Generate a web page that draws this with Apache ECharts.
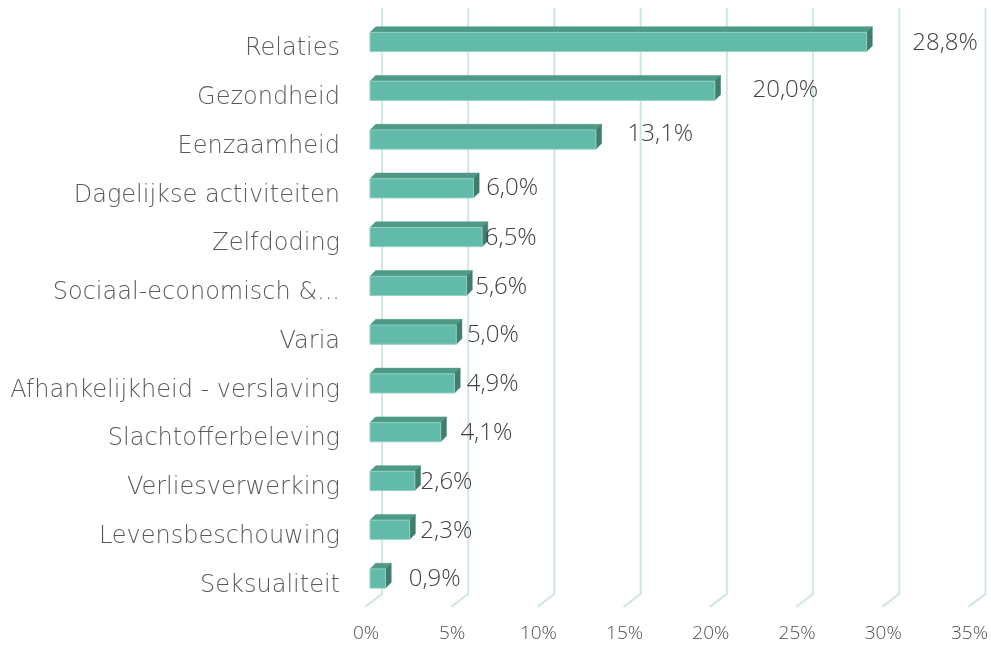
<!DOCTYPE html>
<html>
<head>
<meta charset="utf-8">
<script src="https://cdn.jsdelivr.net/npm/echarts@6/dist/echarts.min.js"></script>
<style>
html,body{margin:0;padding:0;background:#fff;}
#chart{width:991px;height:645px;}
</style>
</head>
<body>
<div id="chart"></div>
<script>
// ---- data ----
var categories = ['Relaties','Gezondheid','Eenzaamheid','Dagelijkse activiteiten','Zelfdoding','Sociaal-economisch &...','Varia','Afhankelijkheid - verslaving','Slachtofferbeleving','Verliesverwerking','Levensbeschouwing','Seksualiteit'];
var values = [28.8, 20.0, 13.1, 6.0, 6.5, 5.6, 5.0, 4.9, 4.1, 2.6, 2.3, 0.9];
var valueLabels = ['28,8%','20,0%','13,1%','6,0%','6,5%','5,6%','5,0%','4,9%','4,1%','2,6%','2,3%','0,9%'];
var ticks = [0, 5, 10, 15, 20, 25, 30, 35];

// ---- layout (label nudges, as in the original) ----
var labelGap = [40, 32, 26, 7, -3, 3, 5, 6.5, 14, 0, 5, 17.5];
var labelDy  = [1, -1, -5, 0, 1, 1, 1, 1, 1, 1, 1, 1];

var FONT = '"Open Sans", "Fira Sans", sans-serif';
var CAT_FONT = '"DejaVu Sans", "Open Sans", sans-serif';
var DEPTH = 5.7, HALF = 9.6;

var chart = echarts.init(document.getElementById('chart'), null, {renderer: 'canvas'});

var option = {
  animation: false,
  backgroundColor: '#ffffff',
  grid: {left: 370, right: 17.25, top: 17.6, bottom: 42.1, containLabel: false},
  xAxis: {
    type: 'value', min: 0, max: 35, interval: 5,
    axisLine: {show: false}, axisTick: {show: false}, splitLine: {show: false},
    axisLabel: {formatter: '{value}%', fontSize: 19, color: '#505050', fontFamily: FONT, fontWeight: 300, margin: 21, padding: [0, 8, 0, 0]}
  },
  yAxis: {
    type: 'category', inverse: true, data: categories,
    axisLine: {show: false}, axisTick: {show: false}, splitLine: {show: false},
    axisLabel: {
      margin: 30,
      formatter: function (s) { return '{c|' + s + '}'; },
      rich: {c: {fontSize: 24, color: '#595959', fontFamily: CAT_FONT, fontWeight: 200, padding: [14, 0, 0, 0]}}
    }
  },
  series: [
    {
      type: 'custom',
      name: 'gridlines',
      coordinateSystem: 'cartesian2d',
      data: ticks.map(function (t) { return [t, 0]; }),
      encode: {x: 0},
      silent: true,
      z: 1,
      renderItem: function (params, api) {
        var cs = params.coordSys;
        var x = api.coord([api.value(0), categories[0]])[0];
        var yTop = cs.y - 9.6;
        var yBack = cs.y + cs.height - 9;
        var yFront = cs.y + cs.height + 4;
        return {
          type: 'polyline',
          shape: {points: [[x + 12, yTop], [x + 12, yBack], [x - 5, yFront]]},
          style: {stroke: '#d3e6e0', lineWidth: 2, fill: null}
        };
      }
    },
    {
      type: 'custom',
      name: 'bars',
      coordinateSystem: 'cartesian2d',
      data: values.map(function (v, i) { return [v, i]; }),
      encode: {x: 0, y: 1},
      z: 2,
      renderItem: function (params, api) {
        var i = params.dataIndex;
        var v = api.value(0);
        var p0 = api.coord([0, categories[i]]);
        var p1 = api.coord([v, categories[i]]);
        var x0 = p0[0], x1 = p1[0], c = p0[1];
        var yt = c - HALF, yb = c + HALF;
        return {
          type: 'group',
          children: [
            {type: 'polygon', shape: {points: [[x0, yt], [x1, yt], [x1 + DEPTH, yt - DEPTH], [x0 + DEPTH, yt - DEPTH]]},
             style: {fill: '#4f9a86', stroke: '#4f9a86', lineWidth: 0.5}},
            {type: 'polygon', shape: {points: [[x1, yt], [x1 + DEPTH, yt - DEPTH], [x1 + DEPTH, yb - DEPTH], [x1, yb]]},
             style: {fill: '#3f7d6c', stroke: '#3f7d6c', lineWidth: 0.5}},
            {type: 'rect', shape: {x: x0, y: yt, width: x1 - x0, height: yb - yt},
             style: {fill: '#62bba8', stroke: '#8fd1c2', lineWidth: 1}},
            {type: 'text', x: x1 + DEPTH + labelGap[i], y: c + labelDy[i],
             style: {text: valueLabels[i], fontSize: 24, fontFamily: FONT, fontWeight: 300, fill: '#404040', align: 'left', verticalAlign: 'middle'}}
          ]
        };
      }
    }
  ]
};
chart.setOption(option);
</script>
</body>
</html>
